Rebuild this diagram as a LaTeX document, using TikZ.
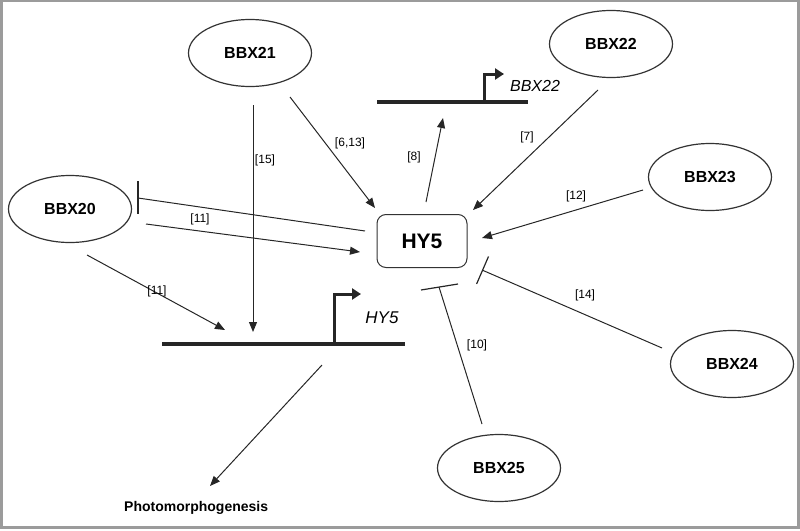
\documentclass[tikz,border=0pt]{standalone}
\usepackage{fontspec}
\setmainfont{Liberation Sans}
\usetikzlibrary{shapes.geometric,arrows.meta}
\definecolor{frame}{RGB}{155,155,155}
\begin{document}
\begin{tikzpicture}[x=1pt,y=-1pt,
 bbx/.style={ellipse,draw=black!80,line width=1.2pt,minimum width=123pt,minimum height=67pt,inner sep=0pt,font=\fontsize{16}{19}\selectfont\bfseries},
 conn/.style={line width=1pt,draw=black!85},
 act/.style={conn,-{Triangle[length=10pt,width=8pt]}},
 inh/.style={conn,-{Bar[width=30pt,line width=1.2pt]}},
 tbar/.style={line width=1.2pt,draw=black!85},
 lbl/.style={font=\fontsize{12}{14}\selectfont,inner sep=0pt},
 gene/.style={line width=4pt,draw=black!85},
 prom/.style={line width=3pt,draw=black!85,-{Triangle[length=9pt,width=11pt]}},
]
\useasboundingbox (0,0) rectangle (800,530);
\draw[line width=2.5pt,frame] (1.5,1.2) rectangle (798.5,527.5);

% nodes
\node[bbx] (b21) at (250,53) {BBX21};
\node[bbx] (b22) at (611,44) {BBX22};
\node[bbx] (b20) at (70,209) {BBX20};
\node[bbx] (b23) at (710,177) {BBX23};
\node[bbx] (b24) at (732,364) {BBX24};
\node[bbx] (b25) at (499,468) {BBX25};
\node[draw=black!80,line width=1pt,rounded corners=9pt,minimum width=90pt,minimum height=53pt,font=\fontsize{21}{24}\selectfont\bfseries] (hy5) at (422,241) {HY5};
\node[anchor=west,inner sep=0pt,font=\fontsize{14}{17}\selectfont\bfseries] (photo) at (124,508) {Photomorphogenesis};

% BBX22 gene
\coordinate (g22a) at (377,102);
\coordinate (g22b) at (528,102);
\coordinate (p22a) at (484,102);
\coordinate (p22b) at (484,74);
\coordinate (p22c) at (504,74);
\draw[gene] (g22a) -- (g22b);
\draw[prom] (p22a) -- (p22b) -- (p22c);
\node[font=\fontsize{16}{19}\selectfont\itshape,inner sep=0pt] (t22) at (535,86) {BBX22};

% HY5 gene
\coordinate (g5a) at (162,344);
\coordinate (g5b) at (405,344);
\coordinate (p5a) at (334,344);
\coordinate (p5b) at (334,294);
\coordinate (p5c) at (361,294);
\draw[gene] (g5a) -- (g5b);
\draw[prom] (p5a) -- (p5b) -- (p5c);
\node[font=\fontsize{17}{20}\selectfont\itshape,inner sep=0pt] (t5) at (382,318) {HY5};

% connector end points
\coordinate (s21a) at (290,97);  \coordinate (e21a) at (375,208);
\coordinate (s21b) at (253,105); \coordinate (e21b) at (253,332);
\coordinate (s22) at (598,90);   \coordinate (e22) at (473,210);
\coordinate (s23) at (643,190);  \coordinate (e23) at (482,238);
\coordinate (s24) at (662,348);  \coordinate (e24) at (482,270);
\coordinate (s25) at (482,424);  \coordinate (e25) at (439,287);
\coordinate (s20a) at (365,231); \coordinate (e20a) at (138,198);
\coordinate (s20b) at (146,224); \coordinate (e20b) at (360,252);
\coordinate (s20c) at (87,255);  \coordinate (e20c) at (225,330);
\coordinate (s8) at (426,202);   \coordinate (e8) at (443,118);
\coordinate (sph) at (322,365);  \coordinate (eph) at (210,486);
% inhibition bars
\coordinate (bar20a) at (138,181); \coordinate (bar20b) at (138,214);
\coordinate (bar25a) at (421,290); \coordinate (bar25b) at (458,284);

\draw[act] (s21a) -- (e21a);
\draw[act] (s21b) -- (e21b);
\draw[act] (s22) -- (e22);
\draw[act] (s23) -- (e23);
\draw[inh] (s24) -- (e24);
\draw[conn] (s25) -- (e25);
\draw[tbar] (bar25a) -- (bar25b);
\draw[conn] (s20a) -- (e20a);
\draw[tbar] (bar20a) -- (bar20b);
\draw[act] (s20b) -- (e20b);
\draw[act] (s20c) -- (e20c);
\draw[act] (s8) -- (e8);
\draw[act] (sph) -- (eph);

% labels
\node[lbl] (l15) at (265,160) {[15]};
\node[lbl] (l613) at (350,143) {[6,13]};
\node[lbl] (l8) at (414,157) {[8]};
\node[lbl] (l7) at (527,137) {[7]};
\node[lbl] (l12) at (576,196) {[12]};
\node[lbl] (l11a) at (200,219) {[11]};
\node[lbl] (l11b) at (157,291) {[11]};
\node[lbl] (l14) at (585,295) {[14]};
\node[lbl] (l10) at (477,345) {[10]};
\end{tikzpicture}
\end{document}
